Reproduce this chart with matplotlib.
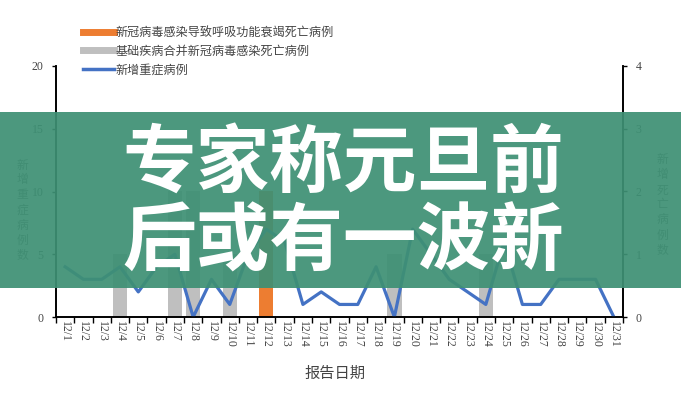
import matplotlib
matplotlib.use("Agg")
import matplotlib.pyplot as plt
from matplotlib.patches import Rectangle
from matplotlib.lines import Line2D
import numpy as np

plt.rcParams['font.family'] = ['Noto Sans CJK SC', 'DejaVu Sans']

dates = ['12/1', '12/2', '12/3', '12/4', '12/5', '12/6', '12/7', '12/8', '12/9', '12/10',
         '12/11', '12/12', '12/13', '12/14', '12/15', '12/16', '12/17', '12/18', '12/19', '12/20',
         '12/21', '12/22', '12/23', '12/24', '12/25', '12/26', '12/27', '12/28', '12/29', '12/30', '12/31']
severe = [4, 3, 3, 4, 2, 4, 5, 0, 3, 1, 5, 7, 6, 1, 2, 1, 1, 4, 0, 7, 5, 3, 2, 1, 6, 1, 1, 3, 3, 3, 0]
deaths_resp = [0, 0, 0, 0, 0, 0, 0, 0, 0, 0, 0, 2, 0, 0, 0, 0, 0, 0, 0, 0, 0, 0, 0, 0, 0, 0, 0, 0, 0, 0, 0]
deaths_base = [0, 0, 0, 1, 0, 0, 2, 2, 0, 1, 0, 0, 0, 0, 0, 0, 0, 0, 1, 0, 0, 0, 0, 1, 0, 0, 0, 0, 0, 0, 0]
left_ticks = [0, 5, 10, 15, 20]
right_ticks = [0, 1, 2, 3, 4]
legend_labels = ['新冠病毒感染导致呼吸功能衰竭死亡病例', '基础疾病合并新冠病毒感染死亡病例', '新增重症病例']
ylabel_left = '新增重症病例数'
ylabel_right = '新增死亡病例数'
xlabel = '报告日期'
banner_lines = ['专家称元旦前', '后或有一波新']

BLUE = '#4472C4'
ORANGE = '#ED7D31'
GRAY = '#BFBFBF'
TXT = '#444444'
serif = ['Liberation Serif', 'DejaVu Serif']

fig = plt.figure(figsize=(6.81, 4.0), dpi=100)
ax = fig.add_axes([56/681, 1-317/400, (623-56)/681, (317-66)/400])
axr = ax.twinx()
ax.set_zorder(axr.get_zorder() + 1)
ax.patch.set_visible(False)

x = np.arange(len(dates))
axr.bar(x, deaths_base, width=0.78, color=GRAY)
axr.bar(x, deaths_resp, width=0.78, color=ORANGE, bottom=deaths_base)
ax.plot(x, severe, color=BLUE, lw=2.3)

ax.set_xlim(-0.5, len(dates) - 0.5)
ax.set_ylim(0, 20)
axr.set_ylim(0, 4)
ax.set_yticks(left_ticks)
axr.set_yticks(right_ticks)
ax.set_yticklabels([str(t) for t in left_ticks], family=serif, fontsize=8.5, color=TXT)
axr.set_yticklabels([str(t) for t in right_ticks], family=serif, fontsize=8.5, color=TXT)

ax.set_xticks(np.arange(-0.5, len(dates), 1.0))
ax.set_xticklabels([])
ax.set_xticks(x, minor=True)
ax.set_xticklabels(dates, minor=True, rotation=-90, family=serif, fontsize=8.5, color=TXT)
ax.tick_params(axis='x', which='major', length=4, width=1, color='black', direction='out')
ax.tick_params(axis='x', which='minor', length=0, pad=3)
ax.tick_params(axis='y', length=3, width=1, color='black', pad=6)
axr.tick_params(axis='y', length=3, width=1, color='black', pad=6)

for a in (ax, axr):
    a.spines['top'].set_visible(False)
    for s in ('left', 'right', 'bottom'):
        a.spines[s].set_color('black')
        a.spines[s].set_linewidth(1.2)

fig.text(22/681, 1-210/400, '\n'.join(ylabel_left), ha='center', va='center',
         fontsize=8.5, color='#666666', linespacing=1.2)
fig.text(662/681, 1-205/400, '\n'.join(ylabel_right), ha='center', va='center',
         fontsize=8.5, color='#666666', linespacing=1.2)
fig.text(335/681, 1-373/400, xlabel, ha='center', va='center', fontsize=11, color='#444444')

handles = [Line2D([0], [0], color=ORANGE, lw=5),
           Line2D([0], [0], color=GRAY, lw=5),
           Line2D([0], [0], color=BLUE, lw=2.5)]
fig.legend(handles, legend_labels, loc='upper left', bbox_to_anchor=(78/681, 1-21/400),
           frameon=False, fontsize=8.7, handlelength=2.6, handletextpad=0.1,
           labelspacing=0.48, labelcolor=TXT, borderaxespad=0)

fig.add_artist(Rectangle((0, 1-288/400), 1, (288-112)/400, transform=fig.transFigure,
                         facecolor='#3E9074', alpha=0.93, edgecolor='none', zorder=10))
fig.text(343/681, 1-164/400, banner_lines[0], ha='center', va='center', fontsize=53,
         fontweight='heavy', color='white', zorder=11)
fig.text(343/681, 1-243/400, banner_lines[1], ha='center', va='center', fontsize=53,
         fontweight='heavy', color='white', zorder=11)

fig.savefig('out.png', dpi=100)
